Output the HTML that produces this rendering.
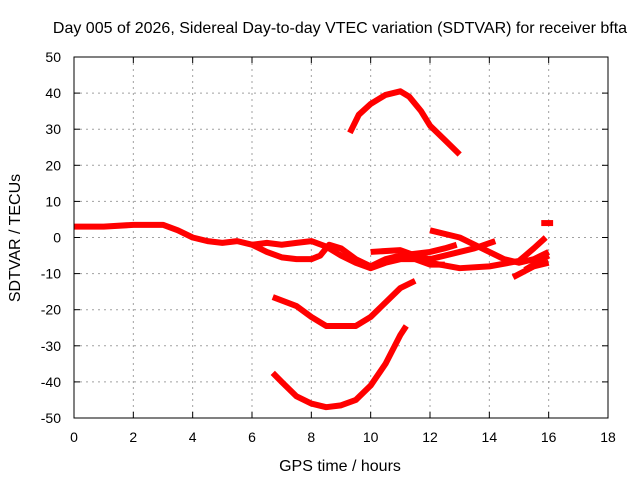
<!DOCTYPE html>
<html><head><meta charset="utf-8"><style>
body{margin:0;background:#fff}
svg{display:block;font-family:"Liberation Sans",sans-serif}
</style></head><body>
<svg id="c" width="640" height="480">
<rect width="640" height="480" fill="#fff"/>
<text x="340" y="33" font-size="16" text-anchor="middle">Day 005 of 2026, Sidereal Day-to-day VTEC variation (SDTVAR) for receiver bfta</text>
<text x="340" y="471" font-size="16" text-anchor="middle">GPS time / hours</text>
<text transform="translate(20,238) rotate(-90)" font-size="16" text-anchor="middle">SDTVAR / TECUs</text>
<g id="grid"></g><g id="series"></g>
<rect x="74" y="57" width="534" height="361" fill="none" stroke="#000" stroke-width="1"/>
</svg>
<script>
const xTicks=[0,2,4,6,8,10,12,14,16,18];
const yTicks=[50,40,30,20,10,0,-10,-20,-30,-40,-50];
const sTop=[[9.3,29],[9.6,34],[10,37],[10.5,39.5],[11,40.5],[11.3,39],[11.7,35],[12,31],[12.5,27],[13,23]];
const sMain=[[0,3],[1,3],[2,3.5],[3,3.5],[3.5,2],[4,0],[4.5,-1],[5,-1.5],[5.5,-1],[6,-2],[6.5,-4],[7,-5.5],[7.5,-6],[8,-6],[8.3,-5],[8.6,-2],[9,-3],[9.5,-6],[10,-8],[10.5,-6],[11,-5],[11.5,-4.5],[12,-4],[12.5,-3],[12.9,-2]];
const sUpper=[[6,-2],[6.5,-1.5],[7,-2],[7.5,-1.5],[8,-1],[8.5,-2.5],[9,-5],[9.5,-7],[10,-8.5],[10.5,-7],[11,-6],[11.5,-6],[12,-7.5],[12.5,-7.5]];
const sFall=[[12,2],[13,0],[13.5,-2],[14,-4],[14.5,-6],[15,-7],[15.5,-6],[16,-4]];
const sRise=[[12,-7],[13,-8.5],[14,-8],[15,-6.5],[15.5,-3],[15.9,0]];
const sMid2=[[10,-4],[11,-3.5],[11.5,-5],[12,-6],[12.5,-5],[13.5,-3],[14.2,-1]];
const sEnd1=[[14.8,-11],[15.5,-8],[16,-7]];
const sEnd2=[[15.2,-9],[16,-5]];
const sEnd3=[[15.75,4],[16.15,4]];
const sMid=[[6.7,-16.5],[7.5,-19],[8,-22],[8.5,-24.5],[9,-24.5],[9.5,-24.5],[10,-22],[10.5,-18],[11,-14],[11.5,-12]];
const sLow=[[6.7,-37.5],[7,-40],[7.5,-44],[8,-46],[8.5,-47],[9,-46.5],[9.5,-45],[10,-41],[10.5,-35],[11,-27],[11.2,-24.5]];
const X=v=>74+v/18*534, Y=v=>57+(50-v)/100*361;
const NS="http://www.w3.org/2000/svg";
const g=document.getElementById('grid'), s=document.getElementById('series');
function mk(t,a,p){const e=document.createElementNS(NS,t);for(const k in a)e.setAttribute(k,a[k]);p.appendChild(e);return e;}
xTicks.forEach(t=>{const x=X(t);
 if(t>0&&t<18){const l=mk('line',{x1:x,y1:57,x2:x,y2:418,stroke:'#a0a0a0','stroke-dasharray':'2,4'},g);
 
 }
 mk('line',{x1:x,y1:418,x2:x,y2:412,stroke:'#000'},g);mk('line',{x1:x,y1:57,x2:x,y2:63,stroke:'#000'},g);
 const tx=mk('text',{x:x,y:442,'font-size':14,'text-anchor':'middle'},g);tx.textContent=t;
 
 });
yTicks.forEach(t=>{const y=Y(t);
 if(t>-50&&t<50){const l=mk('line',{x1:74,y1:y,x2:608,y2:y,stroke:'#a0a0a0','stroke-dasharray':'2,4'},g);
 
 }
 mk('line',{x1:74,y1:y,x2:80,y2:y,stroke:'#000'},g);mk('line',{x1:602,y1:y,x2:608,y2:y,stroke:'#000'},g);
 const tx=mk('text',{x:61,y:y+5,'font-size':14,'text-anchor':'end'},g);tx.textContent=t;
 
 });
[sTop,sMain,sUpper,sFall,sRise,sMid2,sEnd1,sEnd2,sEnd3,sMid,sLow].forEach(d=>{
 const p=mk('polyline',{points:d.map(q=>X(q[0])+','+Y(q[1])).join(' '),fill:'none',stroke:'#f00','stroke-width':6,'stroke-linejoin':'round'},s);
 
 });
</script>
</body></html>
